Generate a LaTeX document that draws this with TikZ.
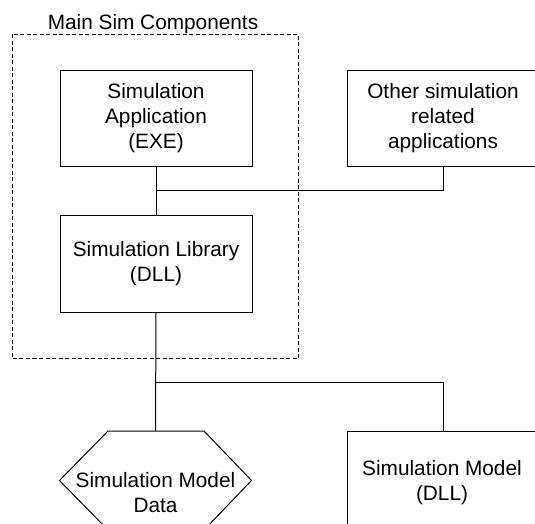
\documentclass[tikz,border=0pt]{standalone}
\usepackage{fontspec}
\setmainfont{Liberation Sans}
\begin{document}
\begin{tikzpicture}[x=1pt,y=-1pt,
  every node/.style={font=\fontsize{20.8}{25}\selectfont, align=center, inner sep=0pt},
  box/.style={draw, line width=1pt, minimum width=192pt, minimum height=96pt},
  conn/.style={line width=1pt},
  group/.style={draw, line width=1pt, dash pattern=on 4pt off 2.5pt}]
\useasboundingbox (0,0) rectangle (535,523);
\clip (0,0) rectangle (535,523);
% group box
\draw[group] (12,34.3) rectangle (298.7,358.3);
\node[anchor=base] (title) at (153,29) {Main Sim Components};
% boxes
\node[box] (app) at (156,118) {Simulation\\Application\\(EXE)};
\node[box] (other) at (443,118.3) {Other simulation\\related\\applications};
\node[box, minimum height=97pt] (lib) at (156,263.5) {Simulation Library\\(DLL)};
\node[box] (model) at (443,479) {};
\node (modeltext) at (442,482.5) {Simulation Model\\(DLL)};
% hexagon
\node (data) at (155.5,493) {Simulation Model\\Data};
\coordinate (dtop) at (155.5,431);
\draw[line width=1pt] (108,431) -- (204,431) -- (251.5,480.5) -- (204,530) -- (108,530) -- (59.5,480.5) -- cycle;
% connectors
\coordinate (j1) at (156,190.5);
\coordinate (j2) at (156,382.5);
\draw[conn] (app.south) -- (lib.north);
\draw[conn] (j1) -| (other.south);
\draw[conn] (lib.south) -- (dtop);
\draw[conn] (j2) -| (model.north);
\end{tikzpicture}
\end{document}
